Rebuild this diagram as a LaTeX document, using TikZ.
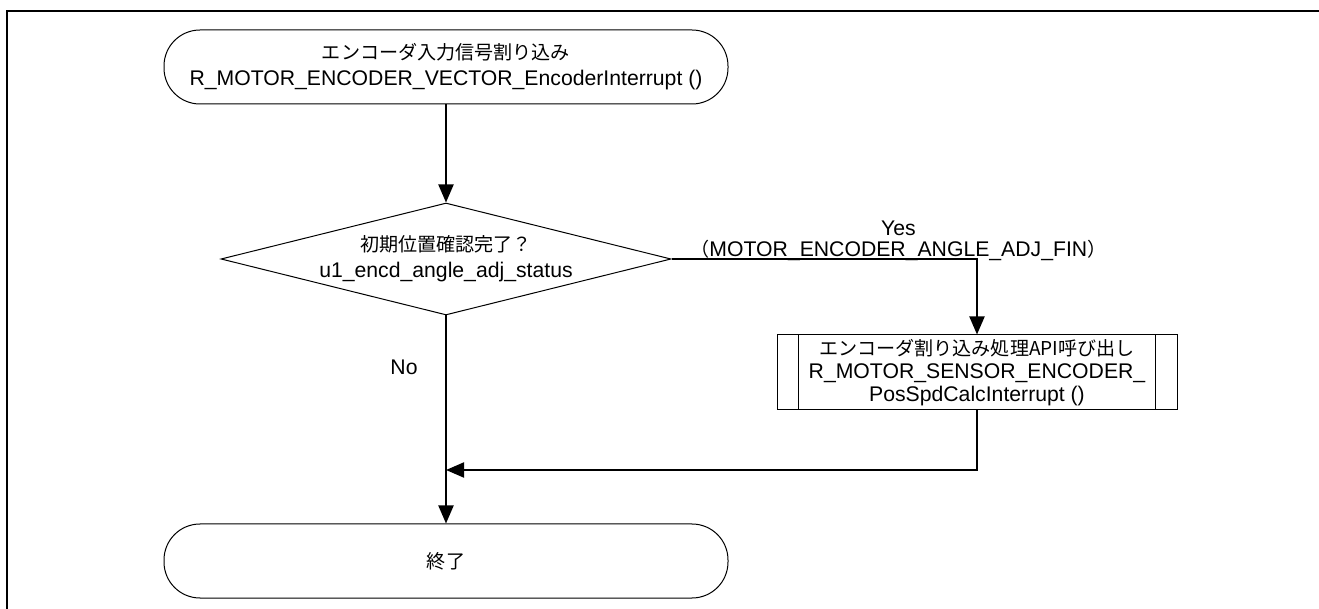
\documentclass[tikz,border=0pt]{standalone}
\usepackage{fontspec}
\setmainfont{Liberation Sans}
\newfontfamily\jp{Noto Sans CJK JP}[Scale=0.9]
\usepackage{tikz}
\usetikzlibrary{arrows.meta,positioning,shapes.geometric}
\tikzset{
  termbox/.style={draw, line width=0.5pt, rounded corners=18pt,
    minimum width=282pt, minimum height=37pt, align=center, inner sep=0pt},
  decision/.style={diamond, draw, line width=0.5pt, aspect=4, align=center,
    inner sep=0pt, minimum width=225pt, minimum height=56pt},
  procbox/.style={draw, line width=0.5pt, minimum width=200pt, minimum height=37.5pt,
    align=center, inner sep=0pt, font=\fontsize{10.6pt}{11.5pt}\selectfont},
  flow/.style={-{Triangle[length=9pt,width=7.5pt]}, line width=1pt},
  frameline/.style={line width=1pt}
}

\begin{document}
\begin{tikzpicture}[x=0.5pt, y=-0.5pt, font=\fontsize{10.6pt}{13pt}\selectfont]
\useasboundingbox (0,0) rectangle (1319,609);
\draw[frameline] (7,609) -- (7,11) -- (1319,11);

\node[termbox] (start) at (446,67)
{{\jp エンコーダ入力信号割り込み}\\R\_MOTOR\_ENCODER\_VECTOR\_EncoderInterrupt ()};
\node[decision] (check) at (446,259)
{{\jp 初期位置確認完了？}\\u1\_encd\_angle\_adj\_status};
\node[procbox] (calc) at (977,372.5)
{{\jp エンコーダ割り込み処理API呼び出し}\\R\_MOTOR\_SENSOR\_ENCODER\_\\PosSpdCalcInterrupt ()};
\node[termbox] (finish) at (446,561) {{\jp 終了}};
\coordinate (merge) at (446,470);

\node[anchor=base west, inner sep=0pt] (adjfin) at (690,256.5)
{{\jp （}MOTOR\_ENCODER\_ANGLE\_ADJ\_FIN{\jp ）}};
\node[above=2pt of adjfin, inner sep=0pt] (yes) {Yes};
\node[inner sep=0pt] (no) at (404,367) {No};

\draw[line width=0.5pt] ([xshift=11pt]calc.north west) -- ([xshift=11pt]calc.south west);
\draw[line width=0.5pt] ([xshift=-11pt]calc.north east) -- ([xshift=-11pt]calc.south east);

\draw[flow] (start) -- (check);
\draw[flow] (check.east) -| (calc.north);
\draw[flow] (check) -- (finish);
\draw[flow] (calc.south) |- (merge);
\end{tikzpicture}
\end{document}
